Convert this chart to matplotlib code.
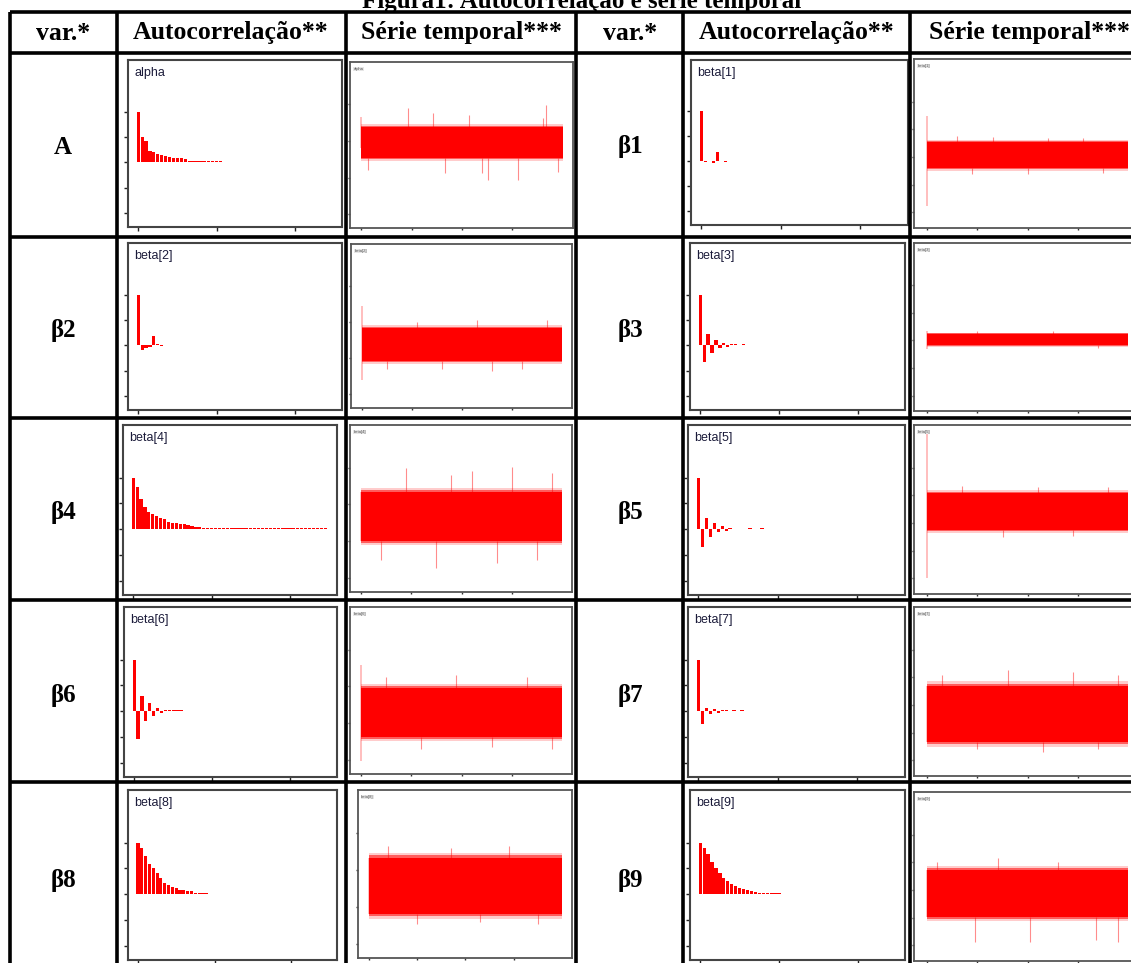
import matplotlib
matplotlib.use("Agg")
import matplotlib.pyplot as plt
from matplotlib.lines import Line2D

W, H, DPI = 1131, 963, 100

# ---------------- data ----------------
title = "Figura1: Autocorrelação e série temporal"
headers = ["var.*", "Autocorrelação**", "Série temporal***",
           "var.*", "Autocorrelação**", "Série temporal***"]
labels_left = ["A", "β2", "β4", "β6", "β8"]
labels_right = ["β1", "β3", "β5", "β7", "β9"]
names_left = ["alpha", "beta[2]", "beta[4]", "beta[6]", "beta[8]"]
names_right = ["beta[1]", "beta[3]", "beta[5]", "beta[7]", "beta[9]"]

# autocorrelation by lag (lag 0, 1, 2, ...)
acf_alpha = [1.0, 0.5, 0.42, 0.22, 0.2, 0.16, 0.14, 0.12, 0.11, 0.09, 0.09, 0.08, 0.07,
             0.03, 0.02, 0.03, 0.02, 0.03, 0.02, 0.03, 0.02, 0.03]
acf_beta1 = [1.0, -0.02, 0.0, -0.05, 0.17, 0.0, -0.02]
acf_beta2 = [1.0, -0.1, -0.06, -0.03, 0.18, 0.02, -0.02]
acf_beta3 = [1.0, -0.33, 0.22, -0.15, 0.1, -0.06, 0.04, -0.03, 0.02, 0.02, 0.01, 0.02]
acf_beta4 = [1.0, 0.82, 0.59, 0.42, 0.34, 0.30, 0.26, 0.22, 0.19, 0.14, 0.12, 0.12, 0.10,
             0.09, 0.07, 0.06, 0.04, 0.04, 0.03, 0.02, 0.03, 0.02, 0.03, 0.02, 0.03, 0.02,
             0.03, 0.02, 0.03, 0.02, 0.03, 0.02, 0.03, 0.02, 0.03, 0.02, 0.03, 0.02, 0.03,
             0.02, 0.03, 0.02, 0.03, 0.02, 0.03, 0.02, 0.03, 0.02, 0.03, 0.02]
acf_beta5 = [1.0, -0.35, 0.22, -0.15, 0.12, -0.06, 0.05, -0.03, 0.02, 0.0, 0.0, 0.0,
             0.0, 0.02, 0.0, 0.0, 0.02]
acf_beta6 = [1.0, -0.55, 0.3, -0.2, 0.15, -0.1, 0.06, -0.04, 0.03, 0.02, 0.02, 0.02, 0.02]
acf_beta7 = [1.0, -0.25, 0.05, -0.06, 0.04, -0.03, 0.02, 0.02, 0.01, 0.02, 0.01, 0.02]
acf_beta8 = [1.0, 0.89, 0.74, 0.58, 0.5, 0.40, 0.31, 0.22, 0.18, 0.14, 0.11, 0.08, 0.08,
             0.05, 0.05, 0.03, 0.02, 0.03, 0.02]
acf_beta9 = [1.0, 0.9, 0.78, 0.62, 0.5, 0.4, 0.32, 0.25, 0.2, 0.15, 0.12, 0.09, 0.07,
             0.05, 0.04, 0.03, 0.03, 0.02, 0.02, 0.02, 0.02]

# trace plots: main band (low, high), start value range, spikes (x, y)
ts_alpha_band = (-0.46, 0.38)
ts_alpha_start = (-0.2, 0.65)
ts_alpha_spk_x = [0.14, 0.93, 1.43, 1.67, 2.13, 2.4, 2.52, 3.1, 3.6, 3.66, 3.9]
ts_alpha_spk_y = [-0.79, 0.9, 0.76, -0.87, 0.71, -0.87, -1.06, -1.06, 0.63, 0.98, -0.85]

ts_beta1_band = (-0.40, 0.54)
ts_beta1_start = (-1.77, 1.48)
ts_beta1_spk_x = [0.6, 0.9, 1.3, 2.0, 2.4, 3.1, 3.5]
ts_beta1_spk_y = [0.75, -0.62, 0.72, -0.6, 0.7, 0.68, -0.58]

ts_beta2_band = (-1.08, -0.17)
ts_beta2_start = (-1.61, 0.44)
ts_beta2_spk_x = [0.5, 1.1, 1.6, 2.3, 2.6, 3.2, 3.7]
ts_beta2_spk_y = [-1.3, 0.0, -1.3, 0.05, -1.36, -1.3, 0.05]

ts_beta3_band = (-0.18, 0.25)
ts_beta3_start = (-0.3, 0.35)
ts_beta3_spk_x = [1.0, 2.5, 3.4]
ts_beta3_spk_y = [0.35, 0.33, -0.28]

ts_beta4_band = (-0.99, 0.33)
ts_beta4_start = (-0.99, 0.33)
ts_beta4_spk_x = [0.4, 0.9, 1.5, 1.8, 2.2, 2.7, 3.0, 3.5, 3.8]
ts_beta4_spk_y = [-1.5, 1.0, -1.73, 0.8, 0.9, -1.6, 1.01, -1.5, 0.85]

ts_beta5_band = (-0.25, 1.08)
ts_beta5_start = (-1.99, 3.36)
ts_beta5_spk_x = [0.7, 1.5, 2.2, 2.9, 3.6]
ts_beta5_spk_y = [1.35, -0.5, 1.3, -0.45, 1.3]

ts_beta6_band = (-1.37, -0.05)
ts_beta6_start = (-2.03, 0.58)
ts_beta6_spk_x = [0.5, 1.2, 1.9, 2.6, 3.3, 3.8]
ts_beta6_spk_y = [0.25, -1.7, 0.3, -1.65, 0.25, -1.7]

ts_beta7_band = (-1.34, 0.69)
ts_beta7_start = (-1.34, 0.69)
ts_beta7_spk_x = [0.3, 1.0, 1.6, 2.3, 2.9, 3.4, 3.8]
ts_beta7_spk_y = [1.1, -1.6, 1.26, -1.7, 1.2, -1.6, 1.1]

ts_beta8_band = (-1.18, 0.33)
ts_beta8_start = (-1.18, 0.33)
ts_beta8_spk_x = [0.4, 1.0, 1.7, 2.3, 2.9, 3.5]
ts_beta8_spk_y = [0.66, -1.45, 0.6, -1.4, 0.66, -1.45]

ts_beta9_band = (-0.97, 0.72)
ts_beta9_start = (-0.97, 0.72)
ts_beta9_spk_x = [0.2, 0.95, 1.4, 2.05, 2.6, 3.35, 3.8]
ts_beta9_spk_y = [1.0, -1.88, 1.16, -1.88, 1.0, -1.8, -1.88]

acf_left = [acf_alpha, acf_beta2, acf_beta4, acf_beta6, acf_beta8]
acf_right = [acf_beta1, acf_beta3, acf_beta5, acf_beta7, acf_beta9]
ts_left = [(ts_alpha_band, ts_alpha_start, ts_alpha_spk_x, ts_alpha_spk_y),
           (ts_beta2_band, ts_beta2_start, ts_beta2_spk_x, ts_beta2_spk_y),
           (ts_beta4_band, ts_beta4_start, ts_beta4_spk_x, ts_beta4_spk_y),
           (ts_beta6_band, ts_beta6_start, ts_beta6_spk_x, ts_beta6_spk_y),
           (ts_beta8_band, ts_beta8_start, ts_beta8_spk_x, ts_beta8_spk_y)]
ts_right = [(ts_beta1_band, ts_beta1_start, ts_beta1_spk_x, ts_beta1_spk_y),
            (ts_beta3_band, ts_beta3_start, ts_beta3_spk_x, ts_beta3_spk_y),
            (ts_beta5_band, ts_beta5_start, ts_beta5_spk_x, ts_beta5_spk_y),
            (ts_beta7_band, ts_beta7_start, ts_beta7_spk_x, ts_beta7_spk_y),
            (ts_beta9_band, ts_beta9_start, ts_beta9_spk_x, ts_beta9_spk_y)]

# ---------------- layout ----------------
fig = plt.figure(figsize=(W / DPI, H / DPI), dpi=DPI)
fig.patch.set_facecolor("white")

def fx(x):
    return x / W

def fy(y):
    return 1 - y / H

def box(l, t, r, b):
    return [l / W, 1 - b / H, (r - l) / W, (b - t) / H]

SERIF = ["Liberation Serif", "DejaVu Serif"]
NARROW = ["Liberation Sans Narrow", "Liberation Sans", "DejaVu Sans"]

# table grid
vlines_x = [10, 117, 346, 576, 683, 910]
hlines_y = [12, 53, 237, 418, 600, 782]
for x in vlines_x:
    fig.add_artist(Line2D([fx(x), fx(x)], [fy(12), fy(975)], color="black", lw=2.6,
                          solid_capstyle="butt"))
for y in hlines_y:
    fig.add_artist(Line2D([fx(10), fx(1140)], [fy(y), fy(y)], color="black", lw=2.6,
                          solid_capstyle="butt"))

fig.text(fx(582), fy(8), title, ha="center", va="baseline", fontsize=18,
         fontweight="bold", family=SERIF)

col_centers = [63, 231, 461, 630, 797, 1029]
for cx, htxt in zip(col_centers, headers):
    fig.text(fx(cx), fy(33), htxt, ha="center", va="center", fontsize=18.5,
             fontweight="bold", family=SERIF)

row_label_y = [147, 330, 513, 695, 880]
for i in range(5):
    fig.text(fx(63), fy(row_label_y[i]), labels_left[i], ha="center", va="center",
             fontsize=18, fontweight="bold", family=SERIF)
    fig.text(fx(630), fy(row_label_y[i]), labels_right[i], ha="center", va="center",
             fontsize=18, fontweight="bold", family=SERIF)

acf_boxes_left = [(128, 60, 342, 227), (128, 243, 342, 410), (123, 425, 337, 595),
                  (124, 607, 337, 777), (128, 790, 337, 960)]
acf_boxes_right = [(691, 60, 908, 225), (690, 243, 905, 410), (688, 425, 905, 595),
                   (688, 607, 905, 777), (690, 790, 905, 960)]
ts_boxes_left = [(350, 62, 573, 228), (351, 244, 572, 408), (350, 425, 572, 592),
                 (350, 607, 572, 774), (358, 790, 572, 958)]
ts_boxes_right = [(914, 59, 1140, 228), (914, 243, 1140, 411), (914, 425, 1140, 594),
                  (914, 607, 1140, 776), (914, 792, 1140, 961)]

RED = "#ff0000"


def draw_acf(rect, vals, name):
    ax = fig.add_axes(box(*rect))
    lags = list(range(len(vals)))
    ax.bar(lags, vals, width=0.82, color=RED, linewidth=0)
    ax.set_xlim(-2.6, 52)
    ax.set_ylim(-1.28, 2.02)
    ax.set_xticks([0, 20, 40])
    ax.set_yticks([-1, -0.5, 0, 0.5, 1])
    ax.set_xticklabels([])
    ax.set_yticklabels([])
    ax.tick_params(direction="out", length=3, width=1, colors="#222222")
    for s in ax.spines.values():
        s.set_color("#444444")
        s.set_linewidth(1.5)
    ax.text(0.03, 0.96, name, transform=ax.transAxes, ha="left", va="top",
            fontsize=9, color="#1b1b3a", family=NARROW)


def draw_ts(rect, data, name, right):
    band, start, sx, sy = data
    ax = fig.add_axes(box(*rect))
    lo, hi = band
    span = hi - lo
    f1, f2 = 0.04 * span, 0.09 * span
    ax.fill_between([0, 4], [lo - f2, lo - f2], [hi + f2, hi + f2], color=RED,
                    alpha=0.2, linewidth=0)
    ax.fill_between([0, 4], [lo - f1, lo - f1], [hi + f1, hi + f1], color=RED,
                    alpha=0.55, linewidth=0)
    ax.fill_between([0, 4], [lo, lo], [hi, hi], color=RED, linewidth=0)
    ax.vlines([0], [start[0]], [start[1]], color=RED, alpha=0.3, lw=1.2)
    for x, y in zip(sx, sy):
        base = hi if y > hi else lo
        ax.vlines([x], [base], [y], color=RED, alpha=0.45, lw=0.8)
    ax.set_xticks([0, 1, 2, 3])
    if right:
        ax.set_ylim(-2.56, 3.54)
        ax.set_yticks([-2, -1, 0, 1, 2])
        ax.set_xlim(-0.26, 4.23)
    else:
        ax.set_ylim(-2.38, 2.16)
        ax.set_yticks([-2, -1, 0, 1])
        ax.set_xlim(-0.22, 4.2)
    ax.set_xticklabels([])
    ax.set_yticklabels([])
    ax.tick_params(direction="out", length=1.5, width=1, colors="#333333")
    for s in ax.spines.values():
        s.set_color("#555555")
        s.set_linewidth(1.3)
    ax.text(0.015, 0.97, name, transform=ax.transAxes, ha="left", va="top",
            fontsize=3, color="#555555", family=NARROW,
            bbox=dict(facecolor="#e6e6e6", edgecolor="none", pad=0.3))


for i in range(5):
    draw_acf(acf_boxes_left[i], acf_left[i], names_left[i])
    draw_acf(acf_boxes_right[i], acf_right[i], names_right[i])
    draw_ts(ts_boxes_left[i], ts_left[i], names_left[i], False)
    draw_ts(ts_boxes_right[i], ts_right[i], names_right[i], True)

fig.savefig("out.png", dpi=DPI, facecolor="white")
